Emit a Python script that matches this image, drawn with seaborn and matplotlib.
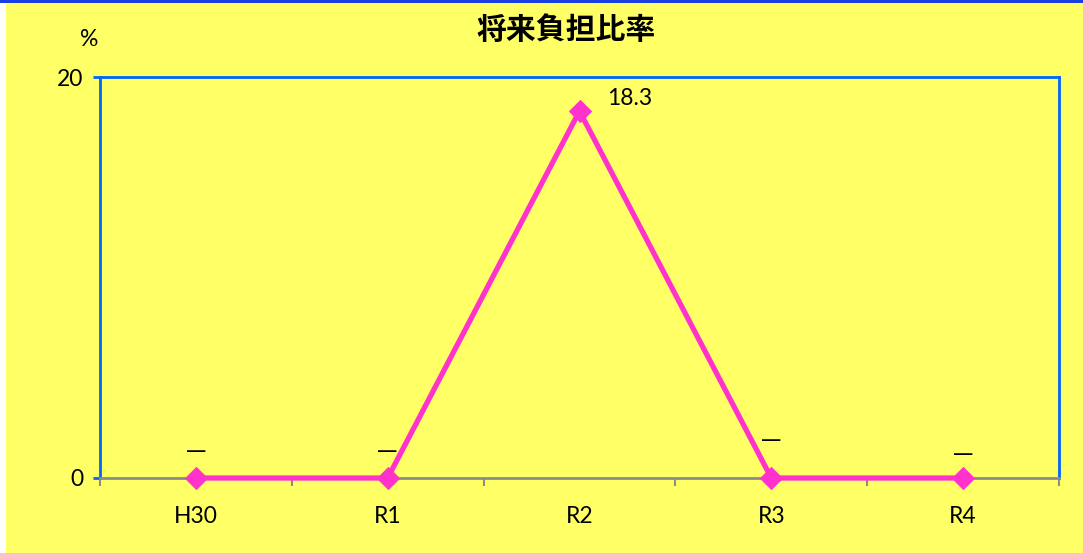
import matplotlib
matplotlib.use('Agg')
import matplotlib.pyplot as plt
import matplotlib.patches as mpatches
import seaborn as sns
import pandas as pd

# data
years = ['H30', 'R1', 'R2', 'R3', 'R4']
ratio = [0.0, 0.0, 18.3, 0.0, 0.0]
point_labels = ['—', '—', '18.3', '—', '—']

title = '将来負担比率'
unit = '%'

BG = '#FFFF66'
LINE = '#FF33CC'
BLUE = '#0066FF'
GRAY = '#8C8C8C'

sns.set_theme(style='white')
plt.rcParams['font.family'] = ['Lato', 'Noto Sans CJK JP', 'DejaVu Sans']
plt.rcParams['text.color'] = 'black'
plt.rcParams['xtick.color'] = 'black'
plt.rcParams['ytick.color'] = 'black'

W, H = 1083, 553
fig = plt.figure(figsize=(W / 100, H / 100), dpi=100, facecolor=BG)

# white strip on the left and blue bar along the top
fig.patches.append(mpatches.Rectangle((0, 0), 6 / W, 1, transform=fig.transFigure,
                                      facecolor='white', edgecolor='none', zorder=0))
fig.patches.append(mpatches.Rectangle((0, 1 - 3 / H), 1, 3 / H, transform=fig.transFigure,
                                      facecolor='#1A3FE0', edgecolor='none', zorder=1))

left, right, top, bottom = 100, 1059, 77, 478
ax = fig.add_axes([left / W, (H - bottom) / H, (right - left) / W, (bottom - top) / H])
ax.set_facecolor(BG)

df = pd.DataFrame({'year': years, 'ratio': ratio})
x = list(range(len(years)))
sns.lineplot(x=x, y=df['ratio'], ax=ax, color=LINE, linewidth=3.8, marker='D',
             markersize=11, markeredgecolor=LINE, markerfacecolor=LINE, sort=False,
             clip_on=False, zorder=5)

ax.set_xlim(-0.5, len(years) - 0.5)
ax.set_ylim(0, 20)
ax.set_yticks([0, 20])
ax.set_yticklabels(['0', '20'], fontsize=16.5)
ax.set_xticks(x)
ax.set_xticklabels(years, fontsize=16.5)
ax.set_xticks([i - 0.5 for i in range(len(years) + 1)], minor=True)
ax.tick_params(axis='x', which='major', bottom=True, length=0, pad=20, labelcolor='black')
ax.tick_params(axis='x', which='minor', bottom=True, length=6, width=1.5, color=GRAY, direction='out')
ax.tick_params(axis='y', left=True, length=5, width=2, color=BLUE, pad=7, direction='out',
               labelcolor='black')
ax.set_xlabel('')
ax.set_ylabel('')

for side in ['top', 'left', 'right']:
    ax.spines[side].set_color(BLUE)
    ax.spines[side].set_linewidth(2)
ax.spines['bottom'].set_color(GRAY)
ax.spines['bottom'].set_linewidth(2)
ax.spines['bottom'].set_zorder(3)

# value labels (offsets in points, per label)
label_offsets = [(0, 19), (0, 19), (20, 9), (0, 27), (0, 17)]
for xi, yi, txt, off in zip(x, ratio, point_labels, label_offsets):
    ha = 'left' if txt != '—' else 'center'
    ax.annotate(txt, (xi, yi), xytext=off, textcoords='offset points',
                ha=ha, va='center', fontsize=16.5, color='black',
                family=['Noto Sans CJK JP', 'DejaVu Sans'] if txt == '—' else None)

fig.text(566 / W, 1 - 30 / H, title, ha='center', va='center', fontsize=21.5,
         fontweight='bold', color='black', family=['Noto Sans CJK JP', 'DejaVu Sans'])
fig.text(89 / W, 1 - 40 / H, unit, ha='center', va='center', fontsize=16.5)

fig.savefig('out.png', dpi=100, facecolor=BG)
